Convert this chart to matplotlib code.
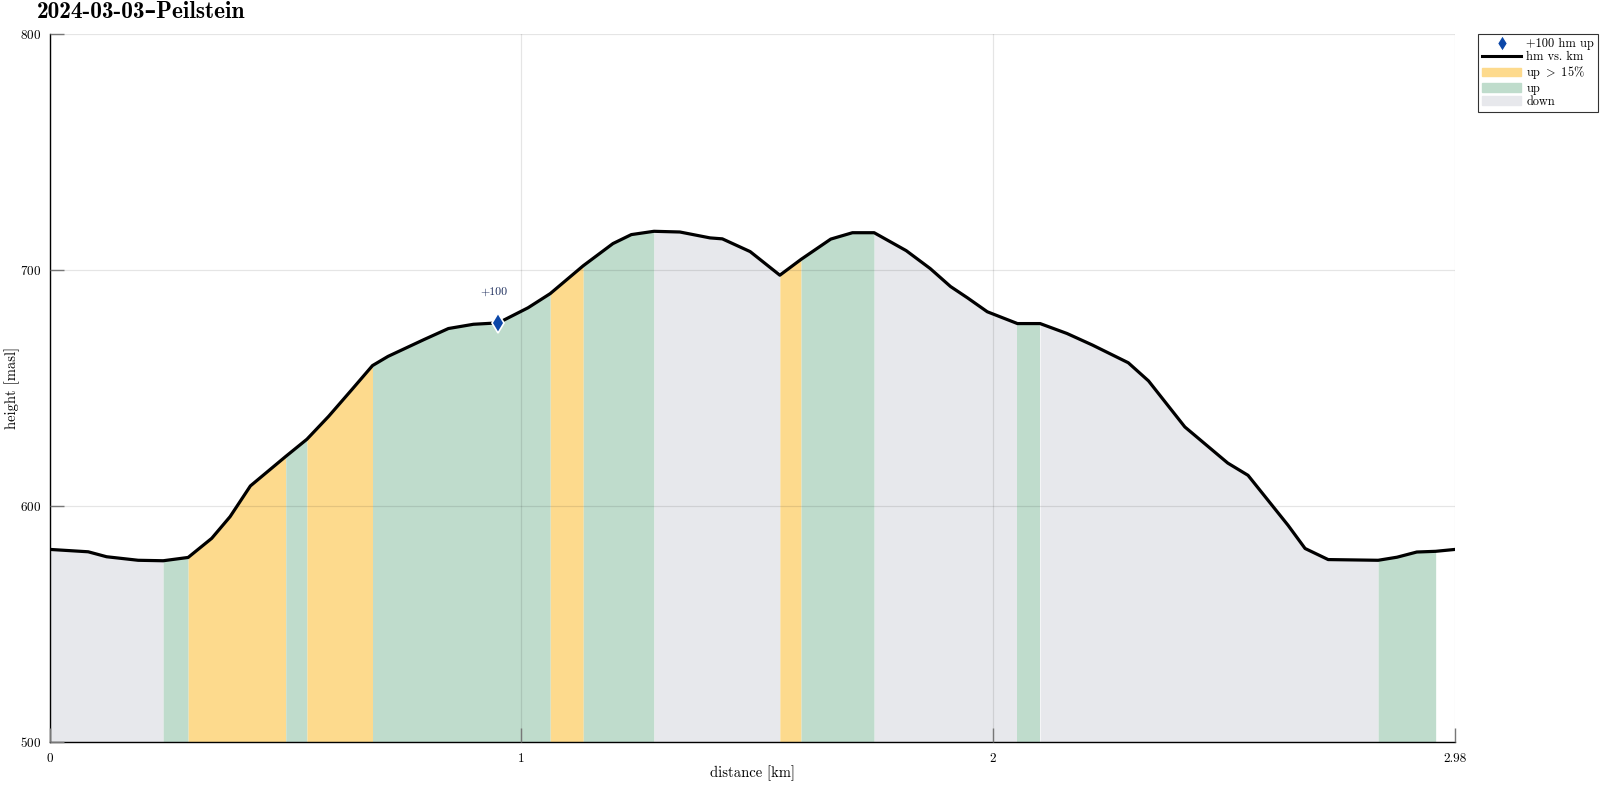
import numpy as np
import matplotlib.pyplot as plt
from matplotlib.patches import Patch
from matplotlib.lines import Line2D

plt.rcParams['font.family'] = ['cmr10', 'DejaVu Serif']
plt.rcParams['mathtext.fontset'] = 'cm'
plt.rcParams['axes.formatter.use_mathtext'] = True

# track profile: distance [km], height [masl]
dist = [0.000, 0.081, 0.120, 0.187, 0.240, 0.293, 0.343, 0.382, 0.425, 0.500,
        0.545, 0.591, 0.641, 0.684, 0.717, 0.793, 0.845, 0.898, 0.951, 1.014,
        1.061, 1.131, 1.194, 1.233, 1.281, 1.336, 1.400, 1.426, 1.485, 1.548,
        1.593, 1.656, 1.702, 1.748, 1.816, 1.867, 1.910, 1.946, 1.988, 2.052,
        2.100, 2.157, 2.211, 2.287, 2.330, 2.407, 2.498, 2.541, 2.626, 2.662,
        2.711, 2.817, 2.857, 2.899, 2.939, 2.980]
height = [581.6, 580.6, 578.5, 577.0, 576.8, 578.2, 586.3, 595.5, 608.5, 621.0,
          628.3, 638.0, 649.5, 659.5, 663.4, 670.5, 675.2, 677.0, 677.6, 684.0,
          690.0, 701.8, 711.2, 715.0, 716.4, 716.1, 713.6, 713.2, 707.8, 697.8,
          704.5, 713.1, 715.8, 715.8, 708.2, 700.6, 693.0, 688.2, 682.3, 677.3,
          677.3, 673.1, 668.2, 660.7, 653.0, 633.5, 618.2, 613.0, 591.8, 582.0,
          577.3, 577.0, 578.3, 580.5, 580.8, 581.6]
# class of each segment: d = down, u = up, s = up > 15%, n = none
seg_class = ['d', 'd', 'd', 'd', 'u', 's', 's', 's', 's', 'u',
             's', 's', 's', 'u', 'u', 'u', 'u', 'u', 'u', 'u',
             's', 'u', 'u', 'u', 'd', 'd', 'd', 'd', 'd', 's',
             'u', 'u', 'u', 'd', 'd', 'd', 'd', 'd', 'd', 'u',
             'd', 'd', 'd', 'd', 'd', 'd', 'd', 'd', 'd', 'd',
             'd', 'u', 'u', 'u', 'n']

marker_km = [0.951]
marker_hm = [677.6]
marker_txt = ['+100']

colors = {'s': '#FDDA8D', 'u': '#BFDCCC', 'd': '#E7E8EC'}
ymin, ymax = 500, 800

fig = plt.figure(figsize=(16, 7.85), dpi=100)
ax = fig.add_axes([50/1600, 43/785, 1405/1600, 708/785])

# fill runs of equal class in one go (no seams)
i = 0
while i < len(seg_class):
    j = i
    while j + 1 < len(seg_class) and seg_class[j + 1] == seg_class[i]:
        j += 1
    c = seg_class[i]
    if c != 'n':
        ax.fill_between(dist[i:j+2], height[i:j+2], ymin, color=colors[c],
                        linewidth=0, zorder=1)
    i = j + 1

ax.plot(dist, height, color='black', lw=2.3, zorder=3)
ax.plot(marker_km, marker_hm, 'd', color='#0B47A8', markersize=10,
        markeredgecolor='white', markeredgewidth=1.2, zorder=4)
for xk, yh, t in zip(marker_km, marker_hm, marker_txt):
    ax.text(xk - 0.009, yh + 13, t, ha='center', va='center', fontsize=8.5,
            color='#1A2B5A')

ax.set_xlim(0, dist[-1])
ax.set_ylim(ymin, ymax)
ax.set_xticks([0, 1, 2, dist[-1]])
ax.set_xticklabels(['0', '1', '2', '%.2f' % dist[-1]])
ax.set_yticks([500, 600, 700, 800])
ax.grid(True, color='black', alpha=0.1, lw=0.9)
ax.set_axisbelow(False)
ax.tick_params(direction='in', length=10, width=1, color='#777777',
               labelsize=9.5, pad=6)
ax.tick_params(axis='x', pad=8)
for s in ['top', 'right']:
    ax.spines[s].set_visible(False)
for s in ['left', 'bottom']:
    ax.spines[s].set_linewidth(1)
ax.set_xlabel('distance [km]', fontsize=10.5)
ax.set_ylabel('height [masl]', fontsize=10.5)
ax.yaxis.set_label_coords(-0.021, 0.5)
ax.xaxis.set_label_coords(0.5, -0.033)
fig.text(37/1600, 1 - 12/785, '2024-03-03\u2013Peilstein', ha='left',
         va='center', fontsize=16.8, family=['cmb10', 'DejaVu Serif'],
         fontweight='bold')

handles = [
    Line2D([], [], marker='d', color='#0B47A8', ls='none', markersize=8,
           markeredgecolor='white', label='+100 hm up'),
    Line2D([], [], color='black', lw=2.2, label='hm vs. km'),
    Patch(color=colors['s'], label=r'up$\ >\ $15%'),
    Patch(color=colors['u'], label='up'),
    Patch(color=colors['d'], label='down'),
]
leg = ax.legend(handles=handles, loc='upper left', bbox_to_anchor=(1.0164, 1.0),
                borderaxespad=0, fontsize=8.9, frameon=True, fancybox=False,
                edgecolor='black', handlelength=3.2, handletextpad=0.4,
                labelspacing=0.1, borderpad=0.3)
leg.get_frame().set_linewidth(0.8)

fig.savefig('out.png', dpi=100)
